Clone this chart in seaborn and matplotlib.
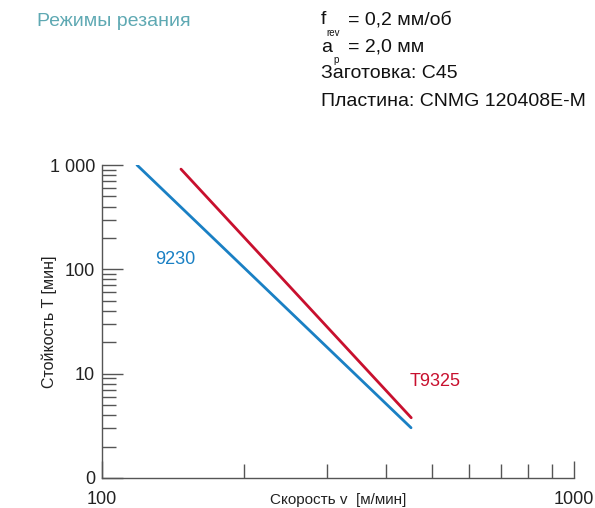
import matplotlib
matplotlib.use("Agg")
import matplotlib.pyplot as plt
import matplotlib.ticker as mticker
from matplotlib import font_manager
import seaborn as sns
import pandas as pd

# ---- data ----
series_names = ["9230", "T9325"]
speed_9230 = [118.6, 451.6]
life_9230 = [1000, 3.03]
speed_t9325 = [147, 452]
life_t9325 = [913, 3.78]
label_pos_9230 = (143, 125)
label_pos_t9325 = (508, 8.4)
y_ticks = [1, 10, 100, 1000]
y_tick_labels = ["0", "10", "100", "1 000"]
x_ticks = [100, 1000]
x_tick_labels = ["100", "1000"]
colors = {"9230": "#1a80c4", "T9325": "#c8102e"}

sns.set_style("white")
names = [f.name for f in font_manager.fontManager.ttflist]
fam = "Liberation Sans Narrow" if "Liberation Sans Narrow" in names else "Liberation Sans"
plt.rcParams["font.family"] = [fam, "DejaVu Sans"]

df = pd.DataFrame({
    "speed": speed_9230 + speed_t9325,
    "life": life_9230 + life_t9325,
    "grade": [series_names[0]] * len(speed_9230) + [series_names[1]] * len(speed_t9325),
})

fig = plt.figure(figsize=(5.95, 5.08), dpi=100)
ax = fig.add_axes([102 / 595, 1 - 478 / 508, 472 / 595, 313 / 508])
sns.lineplot(data=df, x="speed", y="life", hue="grade", palette=colors,
             linewidth=2, legend=False, ax=ax)
ax.set_xscale("log")
ax.set_yscale("log")
ax.set_xlim(100, 1000)
ax.set_ylim(1, 1000)

for s in ["top", "right"]:
    ax.spines[s].set_visible(False)
for s in ["left", "bottom"]:
    ax.spines[s].set_color("#555555")
    ax.spines[s].set_linewidth(1.0)

ax.yaxis.set_major_locator(mticker.FixedLocator(y_ticks))
ax.yaxis.set_major_formatter(mticker.FixedFormatter(y_tick_labels))
ax.yaxis.set_minor_locator(mticker.LogLocator(base=10, subs=range(2, 10)))
ax.yaxis.set_minor_formatter(mticker.NullFormatter())
ax.xaxis.set_major_locator(mticker.FixedLocator(x_ticks))
ax.xaxis.set_major_formatter(mticker.FixedFormatter(x_tick_labels))
ax.xaxis.set_minor_locator(mticker.LogLocator(base=10, subs=range(2, 10)))
ax.xaxis.set_minor_formatter(mticker.NullFormatter())

ax.tick_params(axis="y", which="major", direction="in", length=15, width=1,
               color="#555555", labelsize=13, pad=5, left=True)
ax.tick_params(axis="y", which="minor", direction="in", length=10, width=1,
               color="#555555", left=True)
ax.tick_params(axis="x", which="major", direction="in", length=12, width=1,
               color="#555555", labelsize=13, pad=9, bottom=True)
ax.tick_params(axis="x", which="minor", direction="in", length=10, width=1,
               color="#555555", bottom=True)
for lab in ax.get_xticklabels():
    lab.set_color("#222222")
for lab in ax.get_yticklabels():
    lab.set_color("#222222")

ax.set_xlabel("Скорость v  [м/мин]", fontsize=11, color="#222222")
ax.xaxis.set_label_coords(0.5, -0.048)
ax.set_ylabel("Стойкость T [мин]", fontsize=11.5, color="#222222")
ax.yaxis.set_label_coords(-0.096, 0.5)

ax.text(*label_pos_9230, series_names[0], color=colors["9230"], fontsize=13,
        ha="center", va="center")
ax.text(*label_pos_t9325, series_names[1], color=colors["T9325"], fontsize=13,
        ha="center", va="center")

# header texts
fig.text(37 / 595, 1 - 22 / 508, "Режимы резания", color="#5fa9b3", fontsize=14,
         ha="left", va="center")
hx = 321 / 595
fig.text(hx, 1 - 20 / 508, "f", fontsize=14, ha="left", va="center", color="#111111")
fig.text(326 / 595, 1 - 33 / 508, "rev", fontsize=7, ha="left", va="center", color="#111111")
fig.text(348 / 595, 1 - 20 / 508, "= 0,2 мм/об", fontsize=14, ha="left", va="center", color="#111111")
fig.text(hx, 1 - 47 / 508, "a", fontsize=14, ha="left", va="center", color="#111111")
fig.text(333 / 595, 1 - 60 / 508, "p", fontsize=7, ha="left", va="center", color="#111111")
fig.text(348 / 595, 1 - 47 / 508, "= 2,0 мм", fontsize=14, ha="left", va="center", color="#111111")
fig.text(hx, 1 - 74 / 508, "Заготовка: C45", fontsize=14, ha="left", va="center", color="#111111")
fig.text(hx, 1 - 101 / 508, "Пластина: CNMG 120408E-M", fontsize=14, ha="left", va="center", color="#111111")

fig.savefig("out.png", dpi=100)
